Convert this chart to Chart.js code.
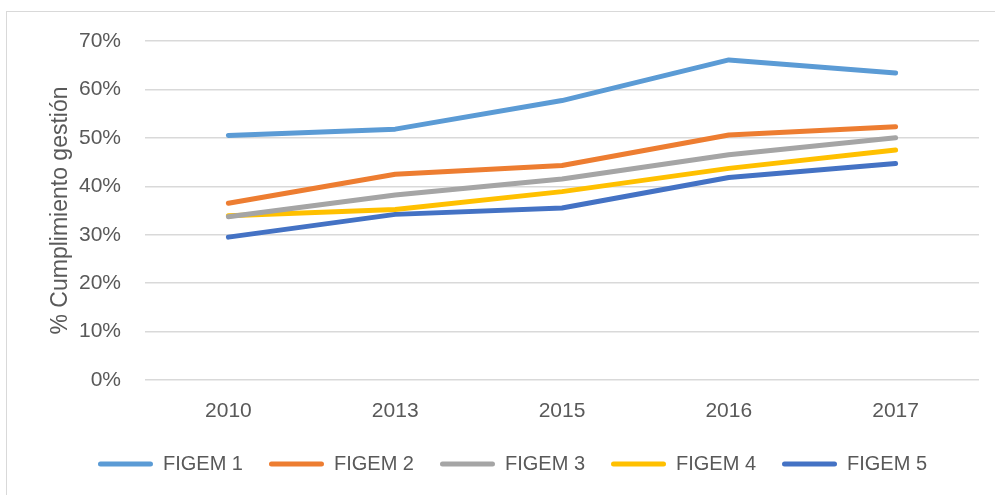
<!DOCTYPE html>
<html>
<head>
<meta charset="utf-8">
<script src="https://cdn.jsdelivr.net/npm/chart.js@4.4.0/dist/chart.umd.min.js"></script>
<style>
  html, body { margin: 0; padding: 0; background: #fff; overflow: hidden; }
  .frame { position: absolute; left: 6px; top: 11px; width: 1020px; height: 520px; border: 1px solid #d9d9d9; }
  .wrap { position: absolute; left: 0; top: 0; width: 995px; height: 495px; }
</style>
</head>
<body>
<div class="frame"></div>
<div class="wrap"><canvas id="myChart" width="995" height="495"></canvas></div>
<script>
// years on the x axis
const years = ['2010', '2013', '2015', '2016', '2017'];

// % cumplimiento gestión per FIGEM level
const figem1 = [50.5, 51.8, 57.7, 66.1, 63.4];
const figem2 = [36.5, 42.5, 44.3, 50.6, 52.3];
const figem3 = [33.7, 38.2, 41.5, 46.5, 50.0];
const figem4 = [33.9, 35.2, 38.9, 43.7, 47.5];
const figem5 = [29.5, 34.2, 35.5, 41.8, 44.7];

const seriesNames = ['FIGEM 1', 'FIGEM 2', 'FIGEM 3', 'FIGEM 4', 'FIGEM 5'];
const colors = ['#5B9BD5', '#ED7D31', '#A5A5A5', '#FFC000', '#4472C4'];

const txt = '#595959';
const fontFam = '"Liberation Sans", Arial, sans-serif';

const myData = [figem1, figem2, figem3, figem4, figem5].map((vals, i) => {
  return {
    label: seriesNames[i],
    data: vals,
    borderColor: colors[i],
    backgroundColor: colors[i],
    borderWidth: 5,
    borderCapStyle: 'round',
    borderJoinStyle: 'round',
    pointRadius: 0,
    tension: 0
  }
})

const ctx = document.getElementById('myChart').getContext('2d');
const myChart = new Chart(ctx, {
  type: 'line',
  data: {
    labels: years,
    datasets: myData
  },
  options: {
    responsive: false,
    animation: false,
    maintainAspectRatio: false,
    layout: {
      // left padding shifts the legend centre, y axis width compensates
      padding: { top: 41, right: 16, left: 46, bottom: 11 }
    },
    scales: {
      x: {
        offset: true,
        grid: { display: false, drawTicks: false },
        border: { display: false },
        ticks: {
          color: txt,
          font: { family: fontFam, size: 21 },
          padding: 19,
          maxRotation: 0
        },
        afterFit: (scale) => { scale.height = 48 }
      },
      y: {
        min: 0,
        max: 70,
        grid: { color: '#d9d9d9', lineWidth: 1.5, drawTicks: false },
        border: { display: false },
        ticks: {
          stepSize: 10,
          color: txt,
          font: { family: fontFam, size: 21 },
          padding: 24,
          callback: (v) => v + '%'
        },
        title: {
          display: true,
          text: '% Cumplimiento gestión',
          color: txt,
          font: { family: fontFam, size: 23, weight: 'normal' },
          padding: { top: 1, bottom: 0 }
        },
        afterFit: (scale) => { scale.width = 99 }
      }
    },
    plugins: {
      tooltip: { enabled: false },
      legend: {
        position: 'bottom',
        labels: {
          color: txt,
          font: { family: fontFam, size: 20 },
          boxWidth: 55,
          boxHeight: 5,
          padding: 26,
          useBorderRadius: true,
          borderRadius: 2.5,
          generateLabels: (chart) => {
            const items = Chart.defaults.plugins.legend.labels.generateLabels(chart);
            items.forEach(it => { it.lineWidth = 0; });
            return items;
          }
        }
      }
    }
  }
});
</script>
</body>
</html>
